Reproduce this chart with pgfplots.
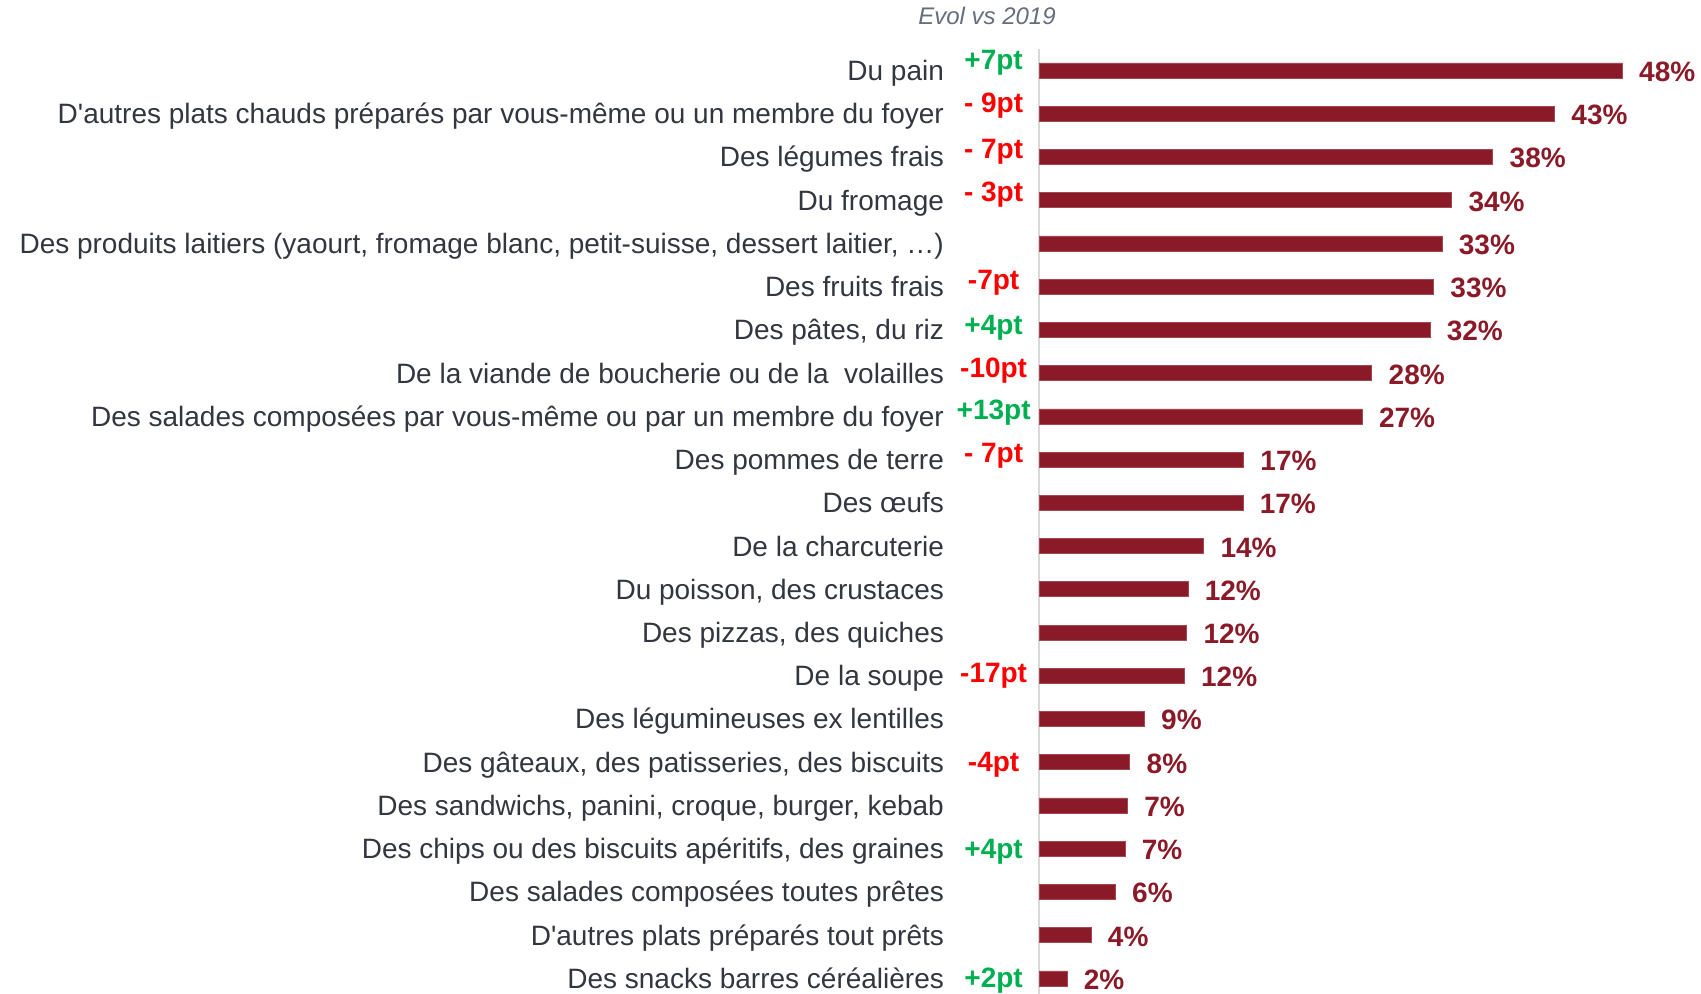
\documentclass[border=0pt]{standalone}
\usepackage{pgfplots}
\pgfplotsset{compat=1.18}
\usepackage{fontspec}
\setmainfont{Liberation Sans}[Ligatures=TeXOff]
\definecolor{barred}{RGB}{139,26,40}
\definecolor{txtgray}{RGB}{50,54,62}
\definecolor{titlegray}{RGB}{100,110,125}
\definecolor{evgreen}{RGB}{0,176,80}
\definecolor{evred}{RGB}{255,0,0}
\begin{document}
\begin{tikzpicture}
\useasboundingbox (0pt,0pt) rectangle (850.5pt,-497pt);
\node[font=\fontsize{12}{14}\selectfont\itshape, text=titlegray] at (493.5pt,-8pt) {Evol vs 2019};
\begin{axis}[
  at={(519.5pt,-24.4pt)}, anchor=north west,
  scale only axis, width=302.5pt, height=475.6pt,
  xmin=0, xmax=50, ymin=-0.5, ymax=21.5, y dir=reverse,
  xbar, bar width=7.5pt, bar shift=0pt,
  axis line style={draw=none}, axis x line=none,
  axis y line*=left,
  ytick={0,...,21}, major tick length=0pt,
  yticklabel style={font=\fontsize{14}{16}\selectfont, text=txtgray, anchor=base east, xshift=-44pt, yshift=-5pt},
  yticklabels={
    {Du pain},
    {D'autres plats chauds préparés par vous-même ou un membre du foyer},
    {Des légumes frais},
    {Du fromage},
    {Des produits laitiers (yaourt, fromage blanc, petit-suisse, dessert laitier, …)},
    {Des fruits frais},
    {Des pâtes, du riz},
    {De la viande de boucherie ou de la\ \ volailles},
    {Des salades composées par vous-même ou par un membre du foyer},
    {Des pommes de terre},
    {Des œufs},
    {De la charcuterie},
    {Du poisson, des crustaces},
    {Des pizzas, des quiches},
    {De la soupe},
    {Des légumineuses ex lentilles},
    {Des gâteaux, des patisseries, des biscuits},
    {Des sandwichs, panini, croque, burger, kebab},
    {Des chips ou des biscuits apéritifs, des graines},
    {Des salades composées toutes prêtes},
    {D'autres plats préparés tout prêts},
    {Des snacks barres céréalières}},
  clip=false,
]
\draw[draw={rgb,255:red,217;green,217;blue,217}, line width=1pt] (axis cs:0,-0.5) -- (axis cs:0,21.6);
\addplot[fill=barred, draw=barred!80!white, line width=0.3pt,
  nodes near coords, point meta=explicit symbolic,
  every node near coord/.append style={font=\fontsize{14}{16}\selectfont\bfseries, text=barred, anchor=base west, xshift=5pt, yshift=-5.5pt}]
  table[x=v, y=i, meta=lab] {
i v lab
0 48.2 48\%
1 42.6 43\%
2 37.5 38\%
3 34.1 34\%
4 33.3 33\%
5 32.6 33\%
6 32.3 32\%
7 27.5 28\%
8 26.7 27\%
9 16.9 17\%
10 16.85 17\%
11 13.6 14\%
12 12.3 12\%
13 12.2 12\%
14 12.0 12\%
15 8.7 9\%
16 7.5 8\%
17 7.3 7\%
18 7.1 7\%
19 6.3 6\%
20 4.3 4\%
21 2.3 2\%
};
\addplot[draw=none, mark=none, forget plot,
  nodes near coords, point meta=explicit symbolic,
  every node near coord/.append style={font=\fontsize{14}{16}\selectfont\bfseries, text=evgreen, anchor=center}]
  table[x=x, y=i, meta=lab] {
x i lab
-3.75 -0.18 +7pt
-3.75 5.95 +4pt
-3.75 7.92 +13pt
-3.75 18.08 +4pt
-3.75 21.05 +2pt
};
\addplot[draw=none, mark=none, forget plot,
  nodes near coords, point meta=explicit symbolic,
  every node near coord/.append style={font=\fontsize{14}{16}\selectfont\bfseries, text=evred, anchor=center}]
  table[x=x, y=i, meta=lab] {
x i lab
-3.75 0.82 {-\ 9pt}
-3.75 1.87 {-\ 7pt}
-3.75 2.87 {-\ 3pt}
-3.75 4.9 -7pt
-3.75 6.95 -10pt
-3.75 8.92 {-\ 7pt}
-3.75 14.0 -17pt
-3.75 16.05 -4pt
};
\end{axis}
\end{tikzpicture}
\end{document}
